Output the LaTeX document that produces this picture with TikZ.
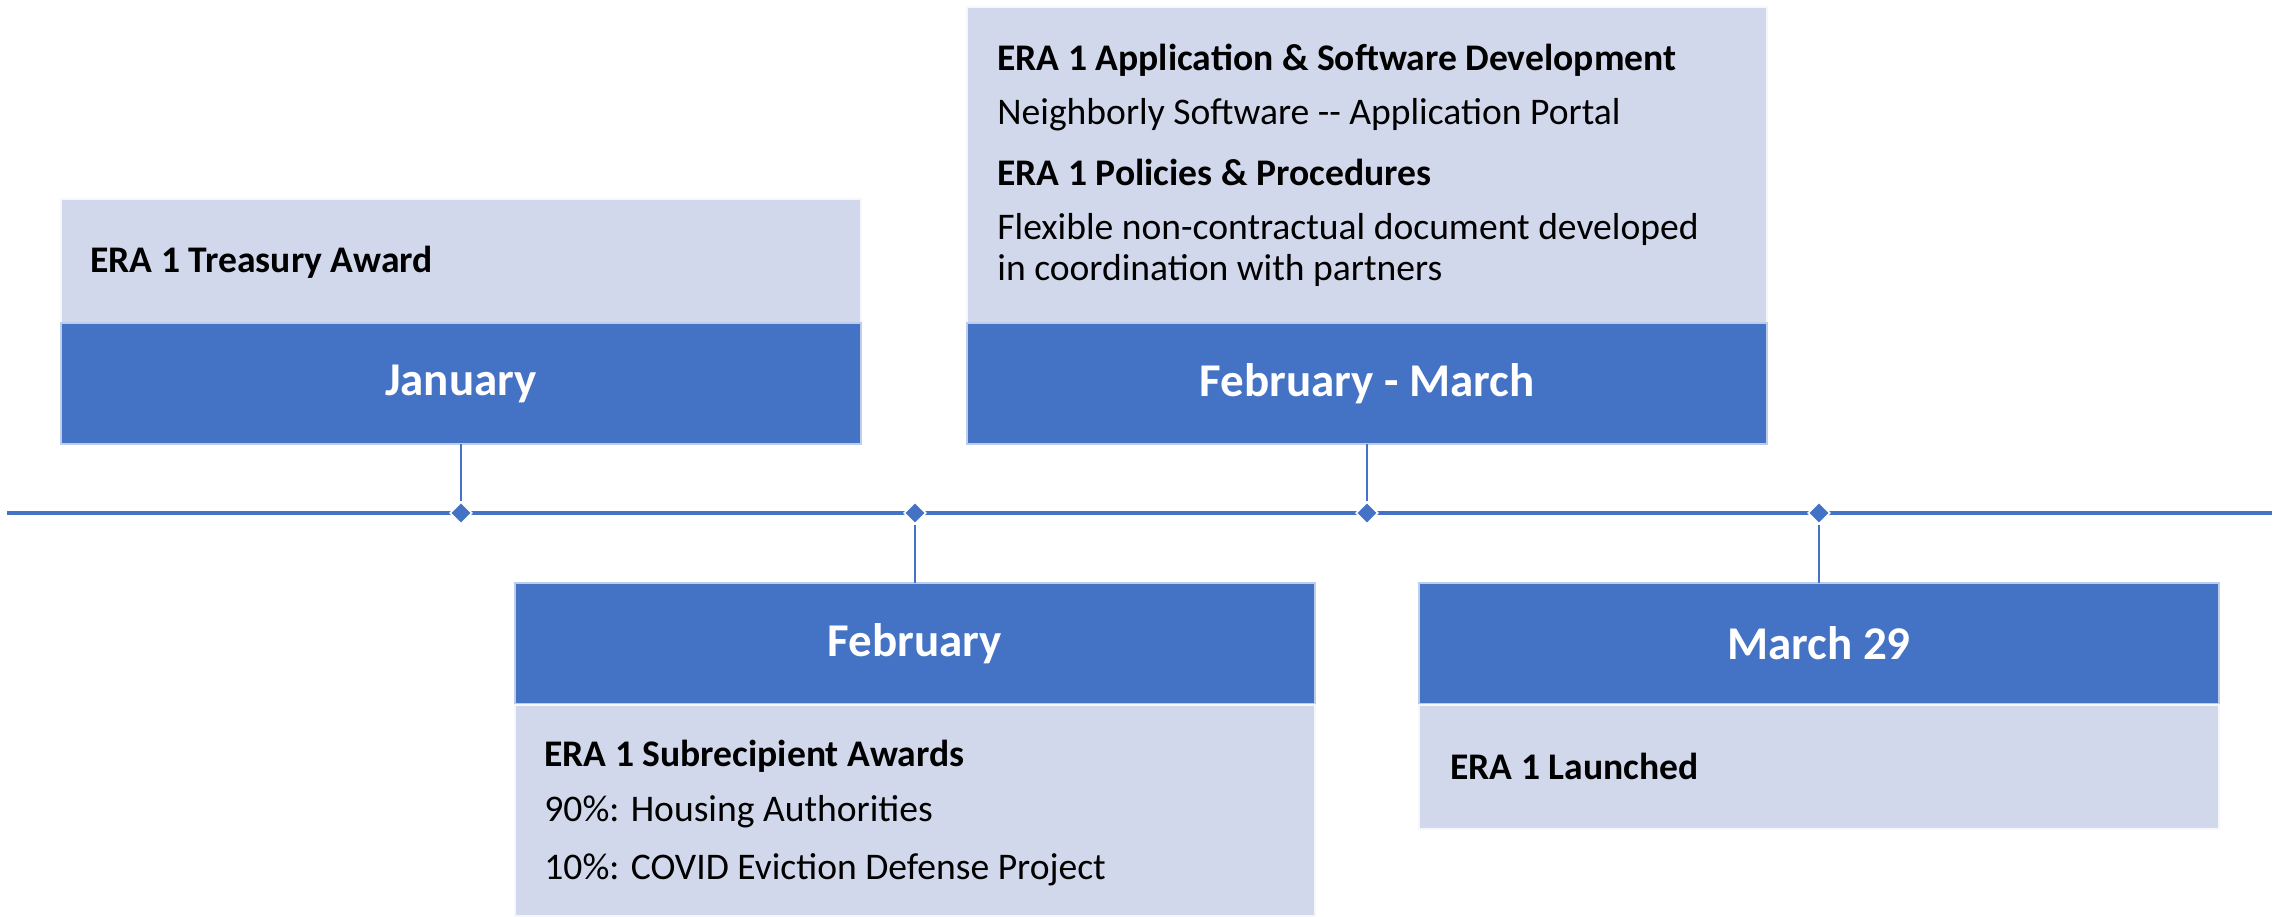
\documentclass[tikz,border=0pt]{standalone}
\usepackage{fontspec}
\setmainfont{Carlito}
\usetikzlibrary{shapes.geometric}
\definecolor{dkblue}{HTML}{4472C4}
\definecolor{ltblue}{HTML}{D2D8EB}
\tikzset{
  lightbox/.style={fill=ltblue, draw=white!80!ltblue, line width=0.7pt, anchor=north west, minimum width=400pt, inner sep=0pt, outer sep=0pt},
  darkbox/.style={fill=dkblue, draw=white!65!dkblue, line width=0.7pt, anchor=north west, minimum width=400pt, minimum height=60.5pt, inner sep=0pt, outer sep=0pt, text=white, font=\fontsize{23.5}{28}\selectfont\bfseries},
  body/.style={anchor=west, inner sep=0pt, font=\fontsize{18.8}{20.5}\selectfont, text=black, align=left},
  bodyb/.style={body, font=\fontsize{18.8}{20.5}\selectfont\bfseries},
  dmd/.style={diamond, fill=dkblue, draw=white, line width=0.8pt, inner sep=0pt, minimum width=11pt, minimum height=11pt, aspect=1},
  stem/.style={draw=dkblue, line width=0.8pt},
  axis/.style={draw=dkblue, line width=1.8pt}
}
\begin{document}
\begin{tikzpicture}[x=0.5pt, y=-0.5pt]
\useasboundingbox (0,0) rectangle (2280,916);
% timeline
\coordinate (tl) at (7,513);
\coordinate (tr) at (2272,513);
\draw[axis] (tl) -- (tr);
% January
\node[lightbox, minimum height=62pt] (janL) at (61,199) {};
\node[darkbox] (janD) at (61,323) {January};
\node[bodyb] (janT) at (90,262) {ERA 1 Treasury Award};
% February - March
\node[lightbox, minimum height=158pt] (fmL) at (967,7) {};
\node[darkbox] (fmD) at (967,323) {February - March};
\node[bodyb] (fm1) at (997,60) {ERA 1 Application \& Software Development};
\node[body] (fm2) at (997,115) {Neighborly Software -{}- Application Portal};
\node[bodyb] (fm3) at (997,172) {ERA 1 Policies \& Procedures};
\node[body] (fm4) at (997,250) {Flexible non-contractual document developed\\in coordination with partners};
% February
\node[darkbox] (febD) at (515,583) {February};
\node[lightbox, minimum height=105.5pt] (febL) at (515,705) {};
\node[bodyb] (feb1) at (544,756) {ERA 1 Subrecipient Awards};
\node[body] (feb2) at (544,812) {90\%: Housing Authorities};
\node[body] (feb3) at (544,870) {10\%: COVID Eviction Defense Project};
% March 29
\node[darkbox] (marD) at (1419,583) {March 29};
\node[lightbox, minimum height=62pt] (marL) at (1419,705) {};
\node[bodyb] (mar1) at (1450,766) {ERA 1 Launched};
% diamonds
\node[dmd] (d1) at (janD.south |- tl) {};
\node[dmd] (d2) at (febD.north |- tl) {};
\node[dmd] (d3) at (fmD.south |- tl) {};
\node[dmd] (d4) at (marD.north |- tl) {};
% stems
\draw[stem] (janD.south) -- (d1.north);
\draw[stem] (d2.south) -- (febD.north);
\draw[stem] (fmD.south) -- (d3.north);
\draw[stem] (d4.south) -- (marD.north);
\end{tikzpicture}
\end{document}
